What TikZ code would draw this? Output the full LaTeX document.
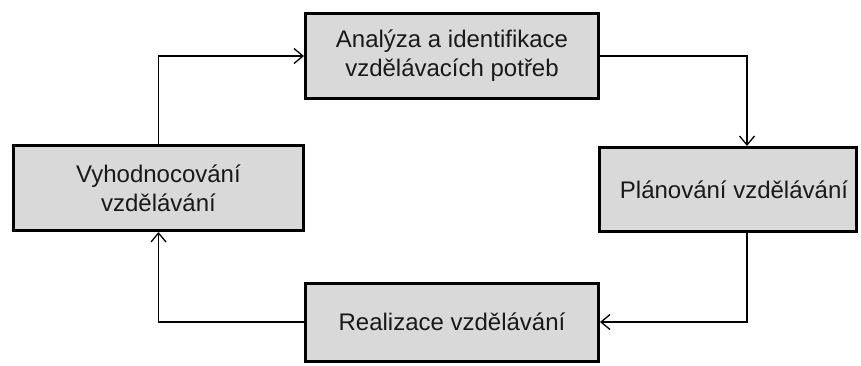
\documentclass[tikz,border=0pt]{standalone}
\usepackage{fontspec}
\setmainfont{Liberation Sans}
\usetikzlibrary{arrows.meta}
\definecolor{boxfill}{RGB}{217,217,217}
\definecolor{txt}{RGB}{25,25,25}
\begin{document}
\begin{tikzpicture}[x=1pt,y=-1pt,
  box/.style={draw=black, line width=3pt, fill=boxfill, inner sep=0pt, align=center,
    text=txt, font=\fontsize{24}{29}\selectfont},
  conn/.style={draw=black, line width=1.6pt, -{Straight Barb[length=9pt,width=15pt,line width=1.3pt]}}]
\useasboundingbox (0,0) rectangle (861,365);
\node[box, minimum width=293pt, minimum height=85pt] (T) at (452,56) {Analýza a identifikace\\vzdělávacích potřeb};
\node[box, minimum width=290pt, minimum height=85pt] (L) at (158.5,188) {Vyhodnocování\\vzdělávání};
\node[box, minimum width=257pt, minimum height=84pt] (R) at (728,189.5) {\hspace*{12pt}Plánování vzdělávání};
\node[box, minimum width=293pt, minimum height=78pt] (B) at (452,322) {Realizace vzdělávání};
\draw[conn] (L.north) |- (T.west);
\draw[conn] (T.east) -| ([xshift=19pt]R.north);
\draw[conn] ([xshift=19pt]R.south) |- (B.east);
\draw[conn] (B.west) -| (L.south);
\end{tikzpicture}
\end{document}
